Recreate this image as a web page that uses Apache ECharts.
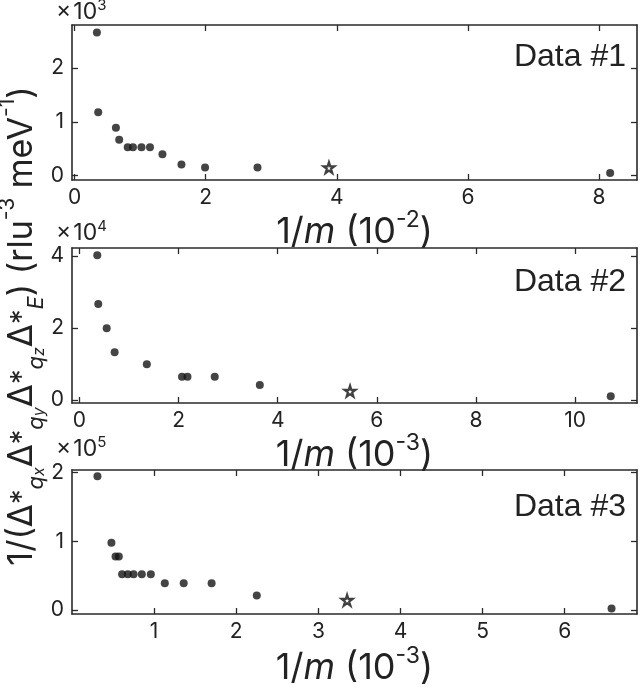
<!DOCTYPE html>
<html><head><meta charset="utf-8">
<script src="https://cdn.jsdelivr.net/npm/echarts@6/dist/echarts.min.js"></script>
<style>html,body{margin:0;padding:0;background:#fff}#c{width:640px;height:692px}</style>
</head><body><div id="c"></div>
<script>
// Panel 1 (x in 10^-2, y in 10^3)
const d1x = [0.34, 0.36, 0.63, 0.68, 0.81, 0.89, 1.02, 1.15, 1.34, 1.63, 1.99, 2.79, 8.17];
const d1y = [2.66, 1.18, 0.89, 0.67, 0.53, 0.53, 0.53, 0.53, 0.40, 0.21, 0.15, 0.15, 0.05];
const s1x = [3.88];
const s1y = [0.15];
// Panel 2 (x in 10^-3, y in 10^4)
const d2x = [0.36, 0.38, 0.55, 0.71, 1.36, 2.07, 2.18, 2.73, 3.64, 10.72];
const d2y = [4.02, 2.66, 1.99, 1.32, 0.99, 0.64, 0.64, 0.64, 0.41, 0.10];
const s2x = [5.46];
const s2y = [0.24];
// Panel 3 (x in 10^-3, y in 10^5)
const d3x = [0.31, 0.48, 0.53, 0.57, 0.61, 0.68, 0.75, 0.85, 0.96, 1.13, 1.36, 1.70, 2.25, 6.57];
const d3y = [1.95, 0.98, 0.78, 0.78, 0.52, 0.52, 0.52, 0.52, 0.52, 0.39, 0.39, 0.39, 0.21, 0.02];
const s3x = [3.35];
const s3y = [0.14];
// Tick labels
const xTicks1 = [0, 2, 4, 6, 8];
const xTicks2 = [0, 2, 4, 6, 8, 10];
const xTicks3 = [1, 2, 3, 4, 5, 6];
const yTicks1 = [0, 1, 2];
const yTicks2 = [0, 2, 4];
const yTicks3 = [0, 1, 2];
const xTitleExp = ['-2', '-3', '-3'];
const yScaleExp = ['3', '4', '5'];
const panelNames = ['Data #1', 'Data #2', 'Data #3'];

const FONT = 'Inter, "Liberation Sans", Arial, sans-serif';
const FONT2 = '"Liberation Sans", Arial, Helvetica, sans-serif';
const INK = '#222';
const AX = '#2a2a2a';
const STAR = 'path://M50,2 L61,36 L97,36 L68,57 L79,92 L50,71 L21,92 L32,57 L3,36 L39,36 Z';

const grids = [
  {left: 72, right: 3, top: 25, height: 155},
  {left: 72, right: 3, top: 248, height: 155},
  {left: 72, right: 3, top: 470, height: 156}
];
const xr = [[-0.04, 8.58], [-0.15, 11.25], [0, 6.88]];
const yr = [[-0.08, 2.8], [-0.09, 4.22], [-0.06, 2.04]];
const xt = [xTicks1, xTicks2, xTicks3];
const yt = [yTicks1, yTicks2, yTicks3];
const nameGaps = [9, 9, 31];

const xAxis = [], yAxis = [], series = [];
const tick = (vals) => ({show: true, inside: true, length: 6, customValues: vals, lineStyle: {color: AX, width: 1.3}});
const line = {show: true, onZero: false, lineStyle: {color: AX, width: 1.6}};

for (let i = 0; i < 3; i++) {
  xAxis.push({
    type: 'value', gridIndex: i, position: 'bottom', min: xr[i][0], max: xr[i][1],
    axisLine: line, axisTick: tick(xt[i]), splitLine: {show: false},
    axisLabel: {customValues: xt[i], fontSize: 21, color: INK, fontFamily: FONT, margin: 7},
    name: '1/{i|m} (10{sup|' + xTitleExp[i] + '})', nameLocation: 'middle', nameGap: nameGaps[i],
    nameTextStyle: {fontSize: 36, lineHeight: 46, color: INK, fontFamily: FONT,
      rich: {i: {fontStyle: 'italic', fontSize: 36, lineHeight: 46, color: INK, fontFamily: FONT},
             sup: {fontSize: 23, lineHeight: 23, verticalAlign: 'top', color: INK, fontFamily: FONT}}}
  });
  xAxis.push({
    type: 'value', gridIndex: i, position: 'top', min: xr[i][0], max: xr[i][1],
    axisLine: line, axisTick: tick(xt[i]), splitLine: {show: false}, axisLabel: {show: false}
  });
  yAxis.push({
    type: 'value', gridIndex: i, position: 'left', min: yr[i][0], max: yr[i][1],
    axisLine: line, axisTick: tick(yt[i]), splitLine: {show: false},
    axisLabel: {customValues: yt[i], fontSize: 21, color: INK, fontFamily: FONT, margin: 8}
  });
  yAxis.push({
    type: 'value', gridIndex: i, position: 'right', min: yr[i][0], max: yr[i][1],
    axisLine: line, axisTick: tick(yt[i]), splitLine: {show: false}, axisLabel: {show: false}
  });
}

const dots = [[d1x, d1y], [d2x, d2y], [d3x, d3y]];
const stars = [[s1x, s1y], [s2x, s2y], [s3x, s3y]];
for (let i = 0; i < 3; i++) {
  series.push({
    type: 'scatter', xAxisIndex: 2 * i, yAxisIndex: 2 * i, symbol: 'circle', symbolSize: 8,
    itemStyle: {color: '#151515'}, silent: true,
    data: dots[i][0].map((x, k) => [x, dots[i][1][k]])
  });
  series.push({
    type: 'scatter', xAxisIndex: 2 * i, yAxisIndex: 2 * i, symbol: STAR, symbolSize: 11,
    itemStyle: {color: '#fff', borderColor: '#111', borderWidth: 2.2}, silent: true,
    data: stars[i][0].map((x, k) => [x, stars[i][1][k]])
  });
}

const graphic = [];
const dataY = [57, 282, 507];
const scaleY = [12, 233, 449];
for (let i = 0; i < 3; i++) {
  graphic.push({type: 'text', x: 626, y: dataY[i], silent: true,
    style: {text: panelNames[i], fontSize: 32, fontFamily: FONT2, fill: INK, align: 'right', verticalAlign: 'middle'}});
  graphic.push({type: 'text', x: 56, y: scaleY[i], silent: true,
    style: {text: '×\u200A10{s|' + yScaleExp[i] + '}', fontSize: 23, lineHeight: 28, fontFamily: FONT, fill: INK,
      align: 'left', verticalAlign: 'middle',
      rich: {s: {fontSize: 15, lineHeight: 15, verticalAlign: 'top', fontFamily: FONT, fill: INK}}}});
}
const yTitle = '1/(Δ{a|*}{s|q}{ss|x}Δ{a|*}{s|q}{ss|y}Δ{a|*}{s|q}{ss|z}Δ{a|*}{s|E}) (rlu{p|-3} meV{p|-1})';
graphic.push({type: 'text', x: 22, y: 326, rotation: Math.PI / 2, silent: true,
  style: {text: yTitle, fontSize: 34, lineHeight: 50, fontFamily: FONT, fill: INK, align: 'center', verticalAlign: 'middle',
    rich: {
      a: {fontSize: 29, lineHeight: 50, verticalAlign: 'middle', fontFamily: FONT, fill: INK},
      s: {fontSize: 22, lineHeight: 22, verticalAlign: 'bottom', fontStyle: 'italic', fontFamily: FONT, fill: INK},
      ss: {fontSize: 16, lineHeight: 16, verticalAlign: 'bottom', fontStyle: 'italic', fontFamily: FONT, fill: INK},
      p: {fontSize: 21, lineHeight: 21, verticalAlign: 'top', fontFamily: FONT, fill: INK}
    }}});

const chart = echarts.init(document.getElementById('c'), null, {renderer: 'canvas'});
chart.setOption({animation: false, backgroundColor: '#fff', grid: grids, xAxis, yAxis, series, graphic});
</script></body></html>
